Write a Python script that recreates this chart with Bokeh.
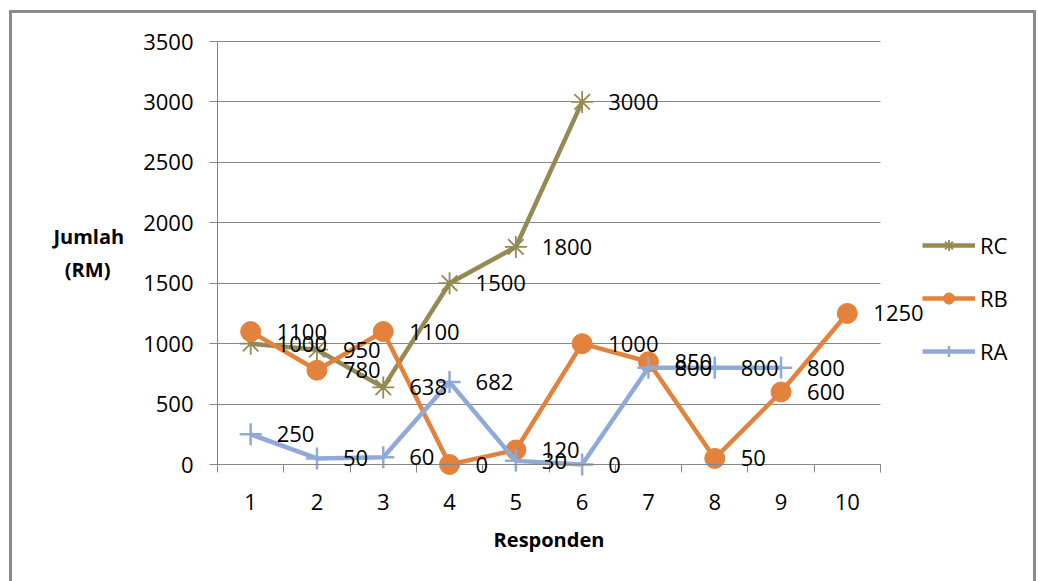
from bokeh.plotting import figure
from bokeh.models import (FixedTicker, Range1d, Legend, LegendItem,
                          ColumnDataSource, LabelSet, Grid)
from bokeh.core.properties import value
from bokeh.embed import file_html
from bokeh.resources import INLINE

# ---- data ----
responden = [1, 2, 3, 4, 5, 6, 7, 8, 9, 10]
rc_x = [1, 2, 3, 4, 5, 6]
rc_values = [1000, 950, 638, 1500, 1800, 3000]
rb_x = [1, 2, 3, 4, 5, 6, 7, 8, 9, 10]
rb_values = [1100, 780, 1100, 0, 120, 1000, 850, 50, 600, 1250]
ra_x = [1, 2, 3, 4, 5, 6, 7, 8, 9]
ra_values = [250, 50, 60, 682, 30, 0, 800, 800, 800]
y_ticks = [0, 500, 1000, 1500, 2000, 2500, 3000, 3500]
series_names = ["RC", "RB", "RA"]

C_RC = "#948A54"
C_RB = "#E2823C"
C_RA = "#8FAAD8"
GRID = "#868686"
FONT = "Open Sans"

# ---- layout (pixels) ----
W, H = 1021, 568            # drawing area inside the outer border
AX_LEFT, AX_RIGHT = 205, 868  # plot area x (px from left of drawing area)
AX_TOP, AX_BOTTOM = 28, 451   # plot area y (px from top of drawing area)
x_lo, x_hi = 0.5, 10.5
y_lo, y_hi = 0, 3500
px_x = (AX_RIGHT - AX_LEFT) / (x_hi - x_lo)
px_y = (AX_BOTTOM - AX_TOP) / (y_hi - y_lo)
x_range = Range1d(x_lo - AX_LEFT / px_x, x_hi + (W - AX_RIGHT) / px_x)
y_range = Range1d(y_lo - (H - AX_BOTTOM) / px_y, y_hi + AX_TOP / px_y)

p = figure(frame_width=W, frame_height=H, x_range=x_range, y_range=y_range,
           output_backend="svg", toolbar_location=None,
           min_border=0, min_border_left=0, min_border_right=0,
           min_border_top=0, min_border_bottom=0)
p.styles = {"border-top": "3px solid #8A8A8A",
            "border-left": "3px solid #8A8A8A",
            "border-right": "3px solid #8A8A8A",
            "margin-left": "9px", "margin-top": "10px"}
p.outline_line_color = None
p.background_fill_color = "white"
p.border_fill_color = "white"

# grid
p.xgrid.visible = False
p.ygrid.ticker = FixedTicker(ticks=y_ticks)
p.ygrid.grid_line_color = GRID
p.ygrid.grid_line_width = 1
if "cross_bounds" in Grid.properties():
    p.ygrid.cross_bounds = (x_lo, x_hi)
else:
    p.ygrid.visible = False
    p.segment(x0=[x_lo] * len(y_ticks), y0=y_ticks,
              x1=[x_hi] * len(y_ticks), y1=y_ticks,
              line_color=GRID, line_width=1)

# x axis
xa = p.xaxis[0]
xa.fixed_location = y_lo
xa.bounds = (x_lo, x_hi)
xa.ticker = FixedTicker(ticks=responden,
                        minor_ticks=[r - 0.5 for r in responden] + [x_hi])
xa.axis_line_color = GRID
xa.major_tick_out = 0
xa.major_tick_in = 0
xa.minor_tick_out = 8
xa.minor_tick_in = 0
xa.minor_tick_line_color = GRID
xa.major_label_standoff = 21
xa.major_label_text_font = FONT
xa.major_label_text_font_size = "22px"
xa.major_label_text_color = "#000000"
xa.axis_label = "Responden"
xa.axis_label_text_font = FONT
xa.axis_label_text_font_style = "bold"
xa.axis_label_text_font_size = "20px"
xa.axis_label_text_color = "#000000"
xa.axis_label_standoff = 13

# y axis
ya = p.yaxis[0]
ya.fixed_location = x_lo
ya.bounds = (y_lo, y_hi)
ya.ticker = FixedTicker(ticks=y_ticks)
ya.axis_line_color = GRID
ya.major_tick_out = 8
ya.major_tick_in = 0
ya.major_tick_line_color = GRID
ya.minor_tick_line_color = None
ya.major_label_standoff = 16
ya.major_label_text_font = FONT
ya.major_label_text_font_size = "22px"
ya.major_label_text_color = "#000000"
# trailing no-break spaces centre the second line under the first
ya.axis_label = "Jumlah\n(RM)\u00a0\u00a0\u2009"
ya.axis_label_orientation = "horizontal"
ya.axis_label_text_font = FONT
ya.axis_label_text_font_style = "bold"
ya.axis_label_text_font_size = "20px"
ya.axis_label_text_color = "#000000"
ya.axis_label_standoff = 16

# sources
src_rc = ColumnDataSource(dict(x=rc_x, y=rc_values, t=[str(v) for v in rc_values]))
src_rb = ColumnDataSource(dict(x=rb_x, y=rb_values, t=[str(v) for v in rb_values]))
src_ra = ColumnDataSource(dict(x=ra_x, y=ra_values, t=[str(v) for v in ra_values]))

# series
l_rc = p.line("x", "y", source=src_rc, line_color=C_RC, line_width=4.5)
m_rc = p.scatter("x", "y", source=src_rc, marker="asterisk", size=22,
                 line_color=C_RC, line_width=1.8)
l_rb = p.line("x", "y", source=src_rb, line_color=C_RB, line_width=4.5)
m_rb = p.scatter("x", "y", source=src_rb, marker="circle", size=20,
                 fill_color=C_RB, line_color=C_RB)
l_ra = p.line("x", "y", source=src_ra, line_color=C_RA, line_width=4.5)
m_ra = p.scatter("x", "y", source=src_ra, marker="cross", size=22,
                 line_color=C_RA, line_width=2.5)

# data labels
for src in (src_rc, src_rb, src_ra):
    p.add_layout(LabelSet(x="x", y="y", text="t", source=src,
                          x_offset=26, y_offset=0,
                          text_align="left", text_baseline="middle",
                          text_font=value(FONT), text_font_size="22px",
                          text_color="#000000"))

# legend
legend = Legend(items=[LegendItem(label=series_names[0], renderers=[l_rc, m_rc]),
                       LegendItem(label=series_names[1], renderers=[l_rb, m_rb]),
                       LegendItem(label=series_names[2], renderers=[l_ra, m_ra])],
                location=(910, 215), orientation="vertical",
                padding=0, margin=0, spacing=23,
                glyph_width=53, glyph_height=28, label_height=28,
                label_standoff=5, label_text_font=FONT,
                label_text_font_size="22px", label_text_color="#000000",
                border_line_color=None, background_fill_alpha=0)
p.add_layout(legend, "center")

open("out.html", "w").write(file_html(p, INLINE))
